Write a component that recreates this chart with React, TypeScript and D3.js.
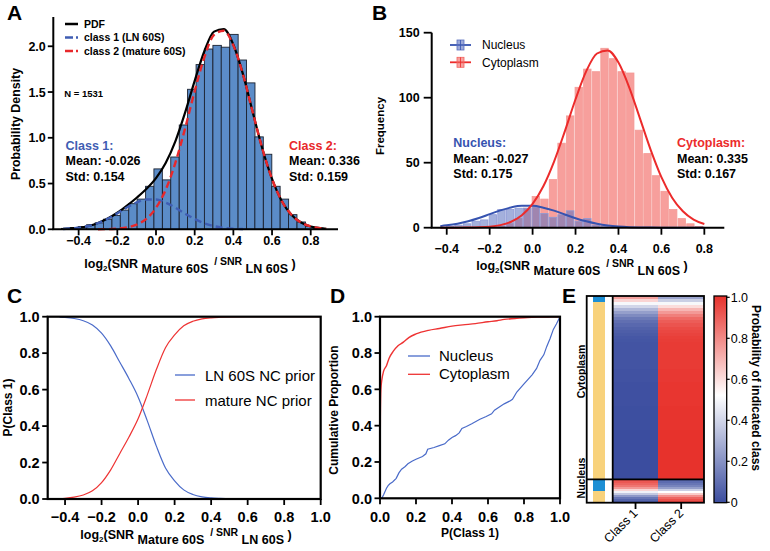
import React from "react";
import * as d3 from "d3";

const FONT = "'Liberation Sans', Arial, Helvetica, sans-serif";

// ---------- Panel A: probability density histogram + 2-component fit
const aBinCenters = [
  -0.467, -0.424, -0.38, -0.337, -0.293, -0.25, -0.206, -0.163, -0.119, -0.076, -0.032,
  0.011, 0.055, 0.098, 0.142, 0.185, 0.229, 0.272, 0.316, 0.359, 0.403, 0.446, 0.49,
  0.533, 0.577, 0.62, 0.664, 0.707, 0.751, 0.794, 0.838,
];
const aBinWidth = 0.0435;
const aDensity = [
  0.01, 0.02, 0.03, 0.05, 0.07, 0.11, 0.15, 0.21, 0.28, 0.33, 0.47,
  0.66, 0.54, 0.79, 1.14, 1.53, 1.8, 1.97, 2.01, 1.99, 2.13, 1.85, 1.6,
  1.01, 0.82, 0.47, 0.33, 0.16, 0.08, 0.03, 0.01,
];
const aCurveX = [
  -0.48, -0.45, -0.4, -0.35, -0.3, -0.25, -0.2, -0.15, -0.1, -0.05, 0, 0.05, 0.1, 0.15,
  0.2, 0.25, 0.3, 0.35, 0.4, 0.45, 0.5, 0.55, 0.6, 0.65, 0.7, 0.75, 0.8, 0.85, 0.88,
];
const aPdf = [
  0.004, 0.008, 0.017, 0.036, 0.069, 0.117, 0.181, 0.259, 0.345, 0.44, 0.559, 0.724, 0.961,
  1.272, 1.622, 1.946, 2.16, 2.187, 2.017, 1.693, 1.281, 0.88, 0.55, 0.31, 0.159, 0.074,
  0.031, 0.012, 0.006,
];
const aClass1 = [
  0.004, 0.008, 0.017, 0.036, 0.068, 0.115, 0.174, 0.239, 0.294, 0.326, 0.325, 0.292, 0.236,
  0.172, 0.112, 0.066, 0.035, 0.017, 0.007, 0.003,
];
const aClass2 = [
  0, 0, 0, 0, 0.001, 0.002, 0.007, 0.02, 0.051, 0.114, 0.234, 0.432, 0.725, 1.1, 1.51, 1.88,
  2.125, 2.17, 2.01, 1.69, 1.28, 0.88, 0.55, 0.31, 0.159, 0.074, 0.031, 0.012, 0.006,
];
const aXTicks = [-0.4, -0.2, 0, 0.2, 0.4, 0.6, 0.8];
const aYTicks = [0, 0.5, 1, 1.5, 2];

// ---------- Panel B: frequency histograms by compartment
const bBinCenters = [
  -0.385, -0.345, -0.305, -0.265, -0.225, -0.185, -0.145, -0.105, -0.065, -0.025, 0.015,
  0.055, 0.095, 0.135, 0.175, 0.215, 0.255, 0.295, 0.335, 0.375, 0.415, 0.455, 0.495, 0.535,
  0.575, 0.615, 0.655, 0.695, 0.735, 0.775,
];
const bBinWidth = 0.04;
const bNucleus = [
  1, 2, 3, 5, 6, 10, 14, 14, 15, 15, 16, 11, 8, 10, 13, 5, 7, 2, 1, 0, 0, 0, 0, 0, 0, 0, 0,
  0, 0, 0,
];
const bCytoplasm = [
  0, 0, 0, 0, 0, 0, 1, 3, 7, 15, 24, 22, 37, 65, 86, 108, 122, 120, 138, 130, 120, 119, 75,
  57, 40, 28, 14, 7, 3, 1,
];
const bCurveX = [
  -0.43, -0.4, -0.35, -0.3, -0.25, -0.2, -0.15, -0.1, -0.05, 0, 0.05, 0.1, 0.15, 0.2, 0.25,
  0.3, 0.35, 0.4, 0.45, 0.5, 0.55, 0.6, 0.65, 0.7, 0.75, 0.8,
];
const bNucCurve = [
  1.2, 1.8, 3.1, 5.0, 7.5, 10.4, 13.3, 15.6, 16.8, 16.8, 15.4, 13.1, 10.2, 7.3, 4.9, 3.0, 1.7,
  0.9, 0.4, 0.2, 0.1, 0.03, 0, 0, 0, 0,
];
const bCytCurve = [
  0, 0, 0.03, 0.1, 0.3, 0.8, 2.0, 4.6, 9.6, 18.3, 31.9, 50.9, 74.1, 98.8, 120.4, 134, 136.4,
  127, 108, 84.1, 59.9, 38.9, 23.1, 12.6, 6.2, 2.8,
];
const bYTicks = [0, 50, 100, 150];

// ---------- Panel C: posterior curves
const cX = [
  -0.43, -0.4, -0.35, -0.3, -0.25, -0.2, -0.15, -0.1, -0.05, 0, 0.05, 0.1, 0.15, 0.2, 0.25,
  0.3, 0.35, 0.4, 0.45, 0.5, 0.6, 0.7, 0.8, 0.9, 1.0,
];
const cLN = [
  0.998, 0.996, 0.99, 0.978, 0.955, 0.91, 0.84, 0.75, 0.66, 0.56, 0.43, 0.29, 0.17, 0.1, 0.05,
  0.025, 0.012, 0.006, 0.003, 0.001, 0, 0, 0, 0, 0,
];
const cMature = [
  0.002, 0.004, 0.01, 0.022, 0.045, 0.09, 0.16, 0.25, 0.34, 0.44, 0.57, 0.71, 0.83, 0.9, 0.95,
  0.975, 0.988, 0.994, 0.997, 0.999, 1, 1, 1, 1, 1,
];
const cXTicks = [-0.4, -0.2, 0, 0.2, 0.4, 0.6, 0.8, 1.0];
const unitTicks = [0, 0.2, 0.4, 0.6, 0.8, 1.0];

// ---------- Panel D: cumulative proportion of P(Class 1)
const dCytX = [
  0, 0.002, 0.005, 0.01, 0.02, 0.036, 0.05, 0.074, 0.1, 0.13, 0.16, 0.2, 0.27, 0.33, 0.4,
  0.46, 0.53, 0.6, 0.65, 0.69, 0.75, 0.82, 0.9, 0.95, 1.0,
];
const dCytY = [
  0, 0.45, 0.6, 0.65, 0.7, 0.73, 0.77, 0.81, 0.84, 0.86, 0.885, 0.905, 0.925, 0.935, 0.948,
  0.955, 0.962, 0.972, 0.978, 0.985, 0.99, 0.996, 0.998, 0.999, 1.0,
];
const dNucX = [
  0, 0.01, 0.02, 0.036, 0.045, 0.055, 0.07, 0.09, 0.105, 0.12, 0.14, 0.155, 0.18, 0.2, 0.236,
  0.255, 0.265, 0.3, 0.33, 0.36, 0.38, 0.4, 0.42, 0.44, 0.455, 0.48, 0.51, 0.555, 0.59, 0.62,
  0.636, 0.69, 0.72, 0.736, 0.76, 0.8, 0.845, 0.87, 0.889, 0.91, 0.926, 0.945, 0.963, 0.98, 1.0,
];
const dNucY = [
  0, 0, 0.02, 0.055, 0.07, 0.08, 0.09, 0.11, 0.14, 0.16, 0.175, 0.19, 0.205, 0.215, 0.23,
  0.245, 0.27, 0.28, 0.29, 0.3, 0.32, 0.335, 0.345, 0.36, 0.385, 0.395, 0.41, 0.435, 0.45,
  0.465, 0.485, 0.52, 0.535, 0.545, 0.585, 0.63, 0.68, 0.715, 0.76, 0.79, 0.835, 0.88, 0.93,
  0.96, 1.0,
];

// ---------- Panel E: heatmap of P(Class 1) per particle (sorted rows)
const eCytP1 = [
  0.74, 0.62, 0.5, 0.4, 0.31, 0.24, 0.18, 0.13, 0.1, 0.08, 0.06, 0.05, 0.04, 0.03, 0.025,
  0.02, 0.02, 0.02, 0.02, 0.02, 0.02, 0.02, 0.02, 0.02, 0.015, 0.015, 0.015, 0.015, 0.01,
  0.01, 0.01, 0.01, 0.01, 0.01, 0.01, 0.01, 0.005, 0.005, 0.005, 0.005, 0.005, 0.005, 0.005,
  0.005, 0, 0, 0, 0, 0, 0, 0, 0, 0, 0, 0, 0, 0, 0, 0, 0,
];
const eNucP1 = [0.93, 0.91, 0.88, 0.84, 0.76, 0.62, 0.48, 0.36, 0.22, 0.12, 0.07, 0.04];
const eClasses = ["Class 1", "Class 2"];

const blue = "#3f5db3";
const red = "#e8282b";

function LogLabel({ x, y }: { x: number; y: number }) {
  return (
    <text x={x} y={y} textAnchor="middle" fontSize={12.5} fontWeight="bold" style={{ whiteSpace: "pre" }}>
      log<tspan fontSize={8} dy={3}>2</tspan>
      <tspan dy={-3}>(SNR</tspan>
      <tspan dy={5}>{" Mature 60S"}</tspan>
      <tspan dy={-8} fontSize={10.5}>{"  / SNR"}</tspan>
      <tspan dy={8}>{" LN 60S"}</tspan>
      <tspan dy={-5}>{" )"}</tspan>
    </text>
  );
}

type Sc = d3.ScaleLinear<number, number>;

function YAxis({ s, ticks, x, fmt, size, len = 6, gap = 3 }: any) {
  return (
    <g>
      {ticks.map((t: number) => (
        <g key={t} transform={`translate(${x},${s(t)})`}>
          <line x1={-len} x2={0} stroke="#000" strokeWidth={1.8} />
          <text x={-len - gap} dy="0.36em" textAnchor="end" fontSize={size} fontWeight="bold">
            {fmt(t)}
          </text>
        </g>
      ))}
    </g>
  );
}

function XAxis({ s, ticks, y, fmt, size, len = 6, labelY }: any) {
  return (
    <g>
      {ticks.map((t: number) => (
        <g key={t} transform={`translate(${s(t)},${y})`}>
          <line y1={0} y2={len} stroke="#000" strokeWidth={1.8} />
          <text y={labelY} textAnchor="middle" fontSize={size} fontWeight="bold">
            {fmt(t)}
          </text>
        </g>
      ))}
    </g>
  );
}

const linePath = (xs: number[], ys: number[], sx: Sc, sy: Sc, curve: any = d3.curveMonotoneX) =>
  d3
    .line<number>()
    .x((_, i) => sx(xs[i]))
    .y((d) => sy(d))
    .curve(curve)(ys) ?? "";

export default function App() {
  const f1 = d3.format(".1f");
  const f0 = d3.format("d");

  // Panel A
  const ax = d3.scaleLinear().domain([-0.531, 0.941]).range([53.3, 338]);
  const ay = d3.scaleLinear().domain([0, 2.32]).range([229.3, 17]);
  const class1X = aCurveX.slice(0, aClass1.length);

  // Panel B
  const bx = d3.scaleLinear().domain([-0.47, 0.893]).range([431.7, 724.3]);
  const by = d3.scaleLinear().domain([0, 150]).range([227.7, 32.7]);

  // Panel C
  const cx = d3.scaleLinear().domain([-0.495, 1.0]).range([47.7, 320.7]);
  const cy = d3.scaleLinear().domain([0, 1]).range([499, 316.7]);

  // Panel D
  const dx = d3.scaleLinear().domain([0, 1]).range([380, 560]);
  const dy = d3.scaleLinear().domain([0, 1]).range([498.3, 316.7]);

  // Panel E
  const ex = d3.scaleBand<string>().domain(eClasses).range([612.7, 704]);
  const eyC = d3.scaleBand<number>().domain(d3.range(eCytP1.length)).range([296, 479.3]);
  const eyN = d3.scaleBand<number>().domain(d3.range(eNucP1.length)).range([479.3, 502.7]);
  const heat = d3
    .scaleLinear<string>()
    .domain([0, 0.52, 1])
    .range(["#3b4d9f", "#ffffff", "#e7322c"])
    .interpolate(d3.interpolateRgb);
  const cbY = d3.scaleLinear().domain([0, 1]).range([502.3, 297.3]);
  const stripColor = (p: number) => (p > 0.5 ? "#1d8fd4" : "#f8d27c");

  const heatRows = (vals: number[], ys: d3.ScaleBand<number>) =>
    vals.map((p, i) => (
      <g key={i}>
        <rect x={593} y={ys(i)} width={12} height={ys.bandwidth() + 0.3} fill={stripColor(p)} />
        {eClasses.map((c, j) => (
          <rect
            key={c}
            x={ex(c)}
            y={ys(i)}
            width={ex.bandwidth()}
            height={ys.bandwidth() + 0.3}
            fill={heat(j === 0 ? p : 1 - p)}
          />
        ))}
      </g>
    ));

  return (
    <svg
      width={770}
      height={551}
      style={{ position: "absolute", left: 0, top: 0, background: "#fff" }}
      fontFamily={FONT}
    >
      <defs>
        <linearGradient id="cbar" x1="0" y1="1" x2="0" y2="0">
          {[0, 0.26, 0.52, 0.76, 1].map((t) => (
            <stop key={t} offset={t} stopColor={heat(t)} />
          ))}
        </linearGradient>
      </defs>

      {/* ===== Panel labels ===== */}
      {[
        ["A", 7, 20],
        ["B", 372, 20],
        ["C", 7, 303],
        ["D", 330, 303],
        ["E", 562, 303],
      ].map(([t, x, y]) => (
        <text key={t as string} x={x as number} y={y as number} fontSize={21} fontWeight="bold">
          {t}
        </text>
      ))}

      {/* ===== Panel A ===== */}
      <g>
        {aBinCenters.map((c, i) => (
          <rect
            key={i}
            x={ax(c - aBinWidth / 2)}
            y={ay(aDensity[i])}
            width={ax(c + aBinWidth / 2) - ax(c - aBinWidth / 2)}
            height={ay(0) - ay(aDensity[i])}
            fill="#5b8cc8"
            stroke="#1b2230"
            strokeWidth={0.9}
          />
        ))}
        <path d={linePath(aCurveX, aPdf, ax, ay)} fill="none" stroke="#000" strokeWidth={2.2} />
        <path
          d={linePath(class1X, aClass1, ax, ay)}
          fill="none"
          stroke={blue}
          strokeWidth={2.4}
          strokeDasharray="7,4"
        />
        <path
          d={linePath(aCurveX.slice(4), aClass2.slice(4), ax, ay)}
          fill="none"
          stroke={red}
          strokeWidth={2.4}
          strokeDasharray="7,4"
        />
        <line x1={53.3} x2={53.3} y1={17} y2={229.3} stroke="#000" strokeWidth={2} />
        <line x1={52.3} x2={338} y1={229.3} y2={229.3} stroke="#000" strokeWidth={2} />
        <YAxis s={ay} ticks={aYTicks} x={53.3} fmt={f1} size={12.5} len={5.5} gap={2} />
        <XAxis s={ax} ticks={aXTicks} y={229.3} fmt={f1} size={12.5} labelY={16} />
        <text transform="translate(19.5,124) rotate(-90)" textAnchor="middle" fontSize={12.4} fontWeight="bold">
          Probability Density
        </text>
        <LogLabel x={190} y={268} />

        {/* legend */}
        <line x1={65} x2={78} y1={24} y2={24} stroke="#000" strokeWidth={2.5} />
        <line x1={65} x2={78} y1={37.5} y2={37.5} stroke={blue} strokeWidth={2.5} strokeDasharray="8,3,3,3" />
        <line x1={65} x2={78} y1={51} y2={51} stroke={red} strokeWidth={2.5} strokeDasharray="8,3,3,3" />
        <g fontSize={10.5} fontWeight="bold">
          <text x={84} y={28}>PDF</text>
          <text x={84} y={41}>class 1 (LN 60S)</text>
          <text x={84} y={54.5}>class 2 (mature 60S)</text>
        </g>
        <text x={64.3} y={96.5} fontSize={9.5} fontWeight="bold">N = 1531</text>
        <g fontSize={12.5} fontWeight="bold">
          <text x={65.5} y={149.5} fill={blue}>Class 1:</text>
          <text x={65.5} y={165}>Mean: -0.026</text>
          <text x={65.5} y={180.5}>Std: 0.154</text>
          <text x={289} y={149.5} fill={red}>Class 2:</text>
          <text x={289} y={165}>Mean: 0.336</text>
          <text x={289} y={180.5}>Std: 0.159</text>
        </g>
      </g>

      {/* ===== Panel B ===== */}
      <g>
        {bBinCenters.map((c, i) =>
          bCytoplasm[i] > 0 ? (
            <rect
              key={"c" + i}
              x={bx(c - bBinWidth / 2) + 0.6}
              y={by(bCytoplasm[i])}
              width={bx(c + bBinWidth / 2) - bx(c - bBinWidth / 2) - 1.2}
              height={by(0) - by(bCytoplasm[i])}
              fill="#f2645f"
              fillOpacity={0.62}
              stroke="#f49a96"
              strokeWidth={0.8}
            />
          ) : null
        )}
        {bBinCenters.map((c, i) =>
          bNucleus[i] > 0 ? (
            <rect
              key={"n" + i}
              x={bx(c - bBinWidth / 2) + 0.6}
              y={by(bNucleus[i])}
              width={bx(c + bBinWidth / 2) - bx(c - bBinWidth / 2) - 1.2}
              height={by(0) - by(bNucleus[i])}
              fill="#5a6fbf"
              fillOpacity={0.55}
              stroke="#8e9ad6"
              strokeWidth={0.8}
            />
          ) : null
        )}
        <path d={linePath(bCurveX, bNucCurve, bx, by)} fill="none" stroke="#3653b0" strokeWidth={2} />
        <path d={linePath(bCurveX, bCytCurve, bx, by)} fill="none" stroke="#ec2b2b" strokeWidth={2} />
        <line x1={431.7} x2={431.7} y1={32.7} y2={227.7} stroke="#000" strokeWidth={2} />
        <line x1={430.7} x2={724.3} y1={227.7} y2={227.7} stroke="#000" strokeWidth={2} />
        <YAxis s={by} ticks={bYTicks} x={431.7} fmt={f0} size={12.5} len={8} gap={4} />
        <XAxis s={bx} ticks={aXTicks} y={227.7} fmt={f1} size={12.5} len={7} labelY={25} />
        <text transform="translate(384,126) rotate(-90)" textAnchor="middle" fontSize={11.5} fontWeight="bold">
          Frequency
        </text>
        <LogLabel x={582} y={270} />

        {/* legend */}
        {[
          { y: 45, c: "#3653b0", f: "#5a6fbf", label: "Nucleus" },
          { y: 62.3, c: "#ec2b2b", f: "#f2645f", label: "Cytoplasm" },
        ].map((d) => (
          <g key={d.label}>
            <line x1={450} x2={471} y1={d.y} y2={d.y} stroke={d.c} strokeWidth={1.8} />
            <rect x={457} y={d.y - 5} width={7} height={10} fill={d.f} fillOpacity={0.6} stroke={d.f} strokeWidth={0.8} />
            <line x1={460.5} x2={460.5} y1={d.y - 5} y2={d.y + 5} stroke={d.c} strokeWidth={0.8} />
            <text x={482} y={d.y + 4.2} fontSize={12}>{d.label}</text>
          </g>
        ))}
        <g fontSize={12.5} fontWeight="bold">
          <text x={453.3} y={147.3} fill="#3653b0">Nucleus:</text>
          <text x={453.3} y={162.5}>Mean: -0.027</text>
          <text x={453.3} y={177.5}>Std: 0.175</text>
          <text x={677} y={147.3} fill="#ec2b2b">Cytoplasm:</text>
          <text x={677} y={162.5}>Mean: 0.335</text>
          <text x={677} y={177.5}>Std: 0.167</text>
        </g>
      </g>

      {/* ===== Panel C ===== */}
      <g>
        <path d={linePath(cX, cLN, cx, cy)} fill="none" stroke="#4a6bc9" strokeWidth={1.2} />
        <path d={linePath(cX, cMature, cx, cy)} fill="none" stroke="#ee3333" strokeWidth={1.2} />
        <rect x={47.7} y={316.7} width={273} height={182.3} fill="none" stroke="#000" strokeWidth={2.2} />
        <YAxis s={cy} ticks={unitTicks} x={47.7} fmt={f1} size={14.5} len={5.5} gap={2.5} />
        <XAxis s={cx} ticks={cXTicks} y={499} fmt={f1} size={14.5} len={6} labelY={22.5} />
        <text transform="translate(11.5,407.5) rotate(-90)" textAnchor="middle" fontSize={12} fontWeight="bold">
          P(Class 1)
        </text>
        <LogLabel x={186} y={538.5} />
        <line x1={175} x2={195} y1={375} y2={375} stroke="#4a6bc9" strokeWidth={1.3} />
        <line x1={175} x2={195} y1={400} y2={400} stroke="#ee3333" strokeWidth={1.3} />
        <g fontSize={15}>
          <text x={205} y={380.5}>LN 60S NC prior</text>
          <text x={205} y={405.5}>mature NC prior</text>
        </g>
      </g>

      {/* ===== Panel D ===== */}
      <g>
        <path d={linePath(dNucX, dNucY, dx, dy, d3.curveLinear)} fill="none" stroke="#4a6bc9" strokeWidth={1.2} />
        <path d={linePath(dCytX, dCytY, dx, dy)} fill="none" stroke="#ee3333" strokeWidth={1.4} />
        <rect x={380} y={316.7} width={180} height={181.6} fill="none" stroke="#000" strokeWidth={2.2} />
        <YAxis s={dy} ticks={unitTicks} x={380} fmt={f1} size={14.5} len={5.5} gap={2.5} />
        <XAxis s={dx} ticks={unitTicks} y={498.3} fmt={f1} size={14.5} len={6} labelY={23.4} />
        <text transform="translate(338,410) rotate(-90)" textAnchor="middle" fontSize={12} fontWeight="bold">
          Cumulative Proportion
        </text>
        <text x={470} y={537} textAnchor="middle" fontSize={12} fontWeight="bold">P(Class 1)</text>
        <line x1={408} x2={430} y1={356} y2={356} stroke="#4a6bc9" strokeWidth={1.3} />
        <line x1={408} x2={430} y1={374.3} y2={374.3} stroke="#ee3333" strokeWidth={1.3} />
        <g fontSize={15}>
          <text x={439} y={360.5}>Nucleus</text>
          <text x={439} y={379}>Cytoplasm</text>
        </g>
      </g>

      {/* ===== Panel E ===== */}
      <g shapeRendering="crispEdges">
        {heatRows(eCytP1, eyC)}
        {heatRows(eNucP1, eyN)}
      </g>
      <g>
        <rect x={586.7} y={296} width={117.3} height={206.7} fill="none" stroke="#000" strokeWidth={1.8} />
        <line x1={612.7} x2={612.7} y1={296} y2={502.7} stroke="#000" strokeWidth={1.8} />
        <line x1={586.7} x2={704} y1={479.3} y2={479.3} stroke="#000" strokeWidth={1.8} />
        {eClasses.map((c) => {
          const cxp = (ex(c) ?? 0) + ex.bandwidth() / 2;
          return (
            <g key={c}>
              <line x1={cxp} x2={cxp} y1={502.7} y2={509} stroke="#000" strokeWidth={1.8} />
              <text
                transform={`translate(${cxp + 3},${514}) rotate(-45)`}
                textAnchor="end"
                fontSize={12.5}
              >
                {c}
              </text>
            </g>
          );
        })}
        <g fontSize={10.5} fontWeight="bold">
          <text transform="translate(584.5,371.5) rotate(-90)" textAnchor="middle">Cytoplasm</text>
          <text transform="translate(584.5,478) rotate(-90)" textAnchor="middle">Nucleus</text>
        </g>

        {/* colour bar */}
        <rect x={714} y={296} width={12.7} height={206.7} fill="url(#cbar)" stroke="#000" strokeWidth={1.3} />
        {unitTicks.map((t) => (
          <g key={t} transform={`translate(726.7,${cbY(t)})`}>
            <line x1={0} x2={3} stroke="#000" strokeWidth={1.2} />
            <text x={4} dy="0.36em" fontSize={12.5}>
              {t === 0 ? "0" : f1(t)}
            </text>
          </g>
        ))}
        <text transform="translate(751.5,388) rotate(90)" textAnchor="middle" fontSize={12} fontWeight="bold">
          Probability of indicated class
        </text>
      </g>
    </svg>
  );
}
